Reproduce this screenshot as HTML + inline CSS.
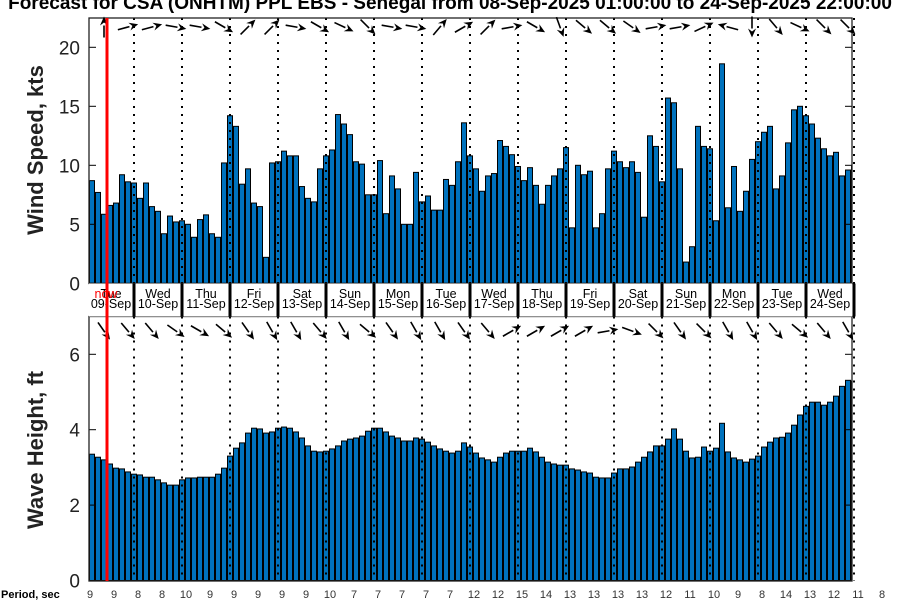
<!DOCTYPE html>
<html><head><meta charset="utf-8"><style>
body{margin:0;background:#fff;width:900px;height:600px;overflow:hidden}
svg{display:block;font-family:"Liberation Sans","DejaVu Sans",sans-serif}
</style></head><body>
<svg id="c" width="900" height="600" viewBox="0 0 900 600">
<defs>
<clipPath id="clipTop"><rect x="89" y="18" width="763" height="266"/></clipPath>
<clipPath id="clipBot"><rect x="89" y="316" width="763" height="265"/></clipPath>
</defs>
<text x="450" y="9" text-anchor="middle" font-size="19" font-weight="bold">Forecast for CSA (ONHTM) PPL EBS  - Senegal from 08-Sep-2025 01:00:00 to 24-Sep-2025 22:00:00</text>
<text transform="translate(43,150) rotate(-90)" text-anchor="middle" font-size="22" font-weight="bold" fill="#222">Wind Speed, kts</text>
<text transform="translate(43,450) rotate(-90)" text-anchor="middle" font-size="22" font-weight="bold" fill="#222">Wave Height, ft</text>
<text x="1" y="598" font-size="11" font-weight="bold">Period, sec</text>
<g id="gTop"></g><g id="gBot"></g><g id="gBand"></g><g id="gOver"></g>
</svg>
<script>
const wind=[8.7,7.7,5.85,6.6,6.8,9.2,8.6,8.5,7.2,8.5,6.5,6.1,4.2,5.7,5.2,5.3,5.0,3.9,5.4,5.8,4.2,3.9,10.2,14.2,13.3,8.4,9.7,6.8,6.5,2.2,10.2,10.3,11.2,10.8,10.8,8.2,7.2,6.9,9.7,10.8,11.3,14.3,13.5,12.6,10.3,10.1,7.5,7.5,10.4,5.9,9.1,8.0,5.0,5.0,9.4,6.9,7.4,6.2,6.2,8.8,8.3,10.3,13.6,10.8,
9.7,7.8,9.1,9.3,12.1,11.6,10.9,9.9,8.7,9.8,8.3,6.7,8.3,9.1,9.7,11.5,4.7,10.0,9.2,9.5,4.7,5.9,9.7,11.2,10.3,9.8,10.3,9.4,5.6,12.5,11.6,8.6,15.7,15.3,9.7,1.8,3.1,13.3,11.6,11.4,5.3,18.6,6.4,9.9,6.1,7.8,10.5,12.0,12.8,13.3,8.0,9.1,11.9,14.7,15.0,14.2,13.5,12.3,11.4,10.8,11.1,9.1,9.6,10.0,8.5];
const wave=[3.35,3.27,3.2,3.09,2.98,2.96,2.88,2.82,2.8,2.74,2.74,2.67,2.59,2.53,2.53,2.67,2.72,2.72,2.74,2.74,2.74,2.82,2.98,3.3,3.51,3.65,3.91,4.04,4.02,3.91,3.94,4.04,4.07,4.04,3.94,3.78,3.57,3.43,3.41,3.43,3.49,3.57,3.7,3.75,3.78,3.83,3.96,4.04,4.04,3.94,3.83,3.78,3.7,3.7,3.78,3.75,3.67,3.57,3.49,3.43,3.38,3.43,3.65,3.54,
3.38,3.25,3.2,3.14,3.27,3.38,3.43,3.43,3.43,3.51,3.41,3.27,3.14,3.09,3.06,3.06,2.96,2.93,2.88,2.85,2.74,2.72,2.72,2.85,2.96,2.96,3.01,3.14,3.27,3.41,3.57,3.57,3.75,4.02,3.75,3.43,3.25,3.27,3.54,3.43,3.51,4.17,3.41,3.25,3.2,3.14,3.22,3.3,3.54,3.67,3.78,3.8,3.91,4.12,4.39,4.62,4.73,4.73,4.65,4.73,4.89,5.15,5.31,5.29];
const windDir=[90,15,15,-10,-10,-30,45,45,-10,-30,-25,-45,-10,-10,50,30,45,10,-30,-70,-40,-40,-35,10,10,25,165,-90,-50,-25,-45,-45];
const waveDir=[-55,-50,-50,-35,-30,-40,-55,-60,-60,-50,-60,-40,-55,-60,-60,-55,-50,30,30,30,30,10,-20,-45,-55,-45,-60,-60,-50,-40,-50,-60];
const periods=[9,9,8,8,10,9,9,9,9,9,10,7,7,7,7,7,12,12,15,14,13,13,13,13,12,11,10,9,8,14,13,12,11,8];
const dayNames=["Tue","Wed","Thu","Fri","Sat","Sun","Mon","Tue","Wed","Thu","Fri","Sat","Sun","Mon","Tue","Wed"];
const dayDates=["09-Sep","10-Sep","11-Sep","12-Sep","13-Sep","14-Sep","15-Sep","16-Sep","17-Sep","18-Sep","19-Sep","20-Sep","21-Sep","22-Sep","23-Sep","24-Sep"];
const windTicks=[0,5,10,15,20];
const waveTicks=[0,2,4,6];

const NS="http://www.w3.org/2000/svg";
function mk(p,t,a){const e=document.createElementNS(NS,t);for(const k in a)e.setAttribute(k,a[k]);p.appendChild(e);return e;}
const X0=89,PITCH=6;
const xBar=i=>X0+PITCH*i;
const yWind=v=>283.3-v*11.8;
const yWave=v=>580.5-v*37.7;
const gTop=document.getElementById('gTop'),gBot=document.getElementById('gBot'),gBand=document.getElementById('gBand'),gOver=document.getElementById('gOver');

function axes(g,top,bot,ticks,yf,nm){
  mk(g,'rect',{x:89,y:top,width:763,height:bot-top,fill:'#fff',stroke:'none'});
  const bars=mk(g,'g',{'clip-path':nm==='wind'?'url(#clipTop)':'url(#clipBot)'});
  const data=nm==='wind'?wind:wave;
  data.forEach((v,i)=>{
    const r=mk(bars,'rect',{x:xBar(i)+0.5,y:yf(v),width:5,height:Math.max(0,yf(0)-yf(v)),fill:'#0072bd',stroke:'#000','stroke-width':1});
    
    
  });
  for(let k=0;k<16;k++){
    const x=134+48*k;
    const l=mk(g,'line',{x1:x,y1:top,x2:x,y2:bot,stroke:'#000','stroke-width':2,'stroke-dasharray':'2,6'});
    
    
  }
  ticks.forEach(t=>{
    const y=yf(t);
    mk(g,'line',{x1:89,y1:y,x2:96,y2:y,stroke:'#000'});
    mk(g,'line',{x1:845,y1:y,x2:852,y2:y,stroke:'#000'});
    const tx=mk(g,'text',{x:80,y:y+7,'text-anchor':'end','font-size':19,fill:'#222'});
    tx.textContent=t;
    
    
  });
  mk(g,'rect',{x:89,y:top,width:763,height:bot-top,fill:'none',stroke:'#222','stroke-width':1.3});
}
axes(gTop,18,283.5,windTicks,yWind,'wind');
axes(gBot,316.5,581,waveTicks,yWave,'wave');

function arrow(g,cx,cy,deg,nm){
  const a=deg*Math.PI/180,L=21,dx=Math.cos(a),dy=-Math.sin(a);
  const hx=cx+dx*L/2,hy=cy+dy*L/2,tx=cx-dx*L/2,ty=cy-dy*L/2;
  const px=-dy,py=dx,hl=9,hw=4;
  const bx=hx-dx*hl,by=hy-dy*hl;
  const grp=mk(g,'g',{});
  
  
  mk(grp,'line',{x1:tx,y1:ty,x2:bx,y2:by,stroke:'#000','stroke-width':1.6});
  mk(grp,'path',{d:`M${hx},${hy}L${bx+px*hw},${by+py*hw}L${hx-dx*6},${hy-dy*6}L${bx-px*hw},${by-py*hw}Z`,fill:'#000'});
}
windDir.forEach((d,k)=>arrow(gTop,104+24*k,27,d,'wind-direction-arrow'));
waveDir.forEach((d,k)=>arrow(gBot,104+24*k,331,d,'wave-direction-arrow'));

// date band
mk(gBand,'rect',{x:89,y:283.5,width:763,height:33,fill:'#fff'});
for(let k=0;k<16;k++){
  const x=134+48*k;
  const s=mk(gBand,'rect',{x:x-1.5,y:283.5,width:3,height:33,fill:'#000'});
  
  
}
dayNames.forEach((n,k)=>{
  const cx=k===0?111:158+48*(k-1);
  const t1=mk(gBand,'text',{x:cx,y:298,'text-anchor':'middle','font-size':12.5,fill:'#000'});
  t1.textContent=n;
  
  
  const t2=mk(gBand,'text',{x:cx,y:308,'text-anchor':'middle','font-size':12.5,fill:'#000'});
  t2.textContent=dayDates[k];
  
  
});
periods.forEach((p,k)=>{
  const t=mk(gBand,'text',{x:90+24*k,y:598,'text-anchor':'middle','font-size':11,fill:'#333'});
  t.textContent=p;
  
  
});
// now line
const nl=mk(gOver,'rect',{x:105.5,y:18,width:3,height:563,fill:'#ff0000'});


const nt=mk(gOver,'text',{x:106,y:298,'text-anchor':'middle','font-size':12.5,fill:'#ff0000'});
nt.textContent='now';


</script>
</body></html>
